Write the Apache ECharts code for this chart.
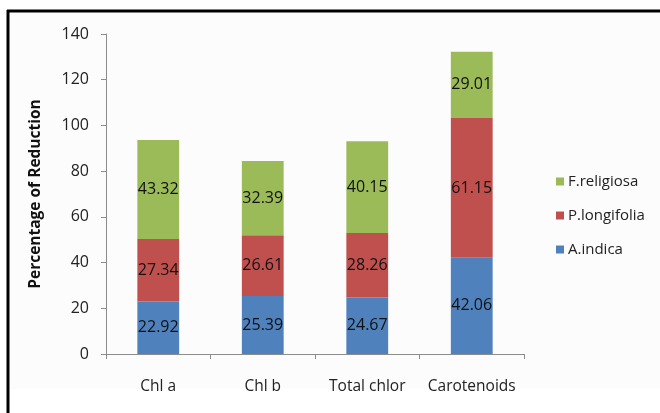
<!DOCTYPE html>
<html>
<head>
<meta charset="utf-8">
<script src="https://cdn.jsdelivr.net/npm/echarts@6/dist/echarts.min.js"></script>
<style>
  html, body { margin: 0; padding: 0; background: #fff; }
  #chart { width: 660px; height: 413px; }
</style>
</head>
<body>
<div id="chart"></div>
<script>
// Pigment reduction (%) by species, stacked per pigment
const categories = ['Chl a', 'Chl b', 'Total chlor', 'Carotenoids'];
const aIndica = [22.92, 25.39, 24.67, 42.06];
const pLongifolia = [27.34, 26.61, 28.26, 61.15];
const fReligiosa = [43.32, 32.39, 40.15, 29.01];
const yTicks = { min: 0, max: 140, interval: 20 };

const FONT = '"Open Sans", "Noto Sans", sans-serif';

const chart = echarts.init(document.getElementById('chart'), null, { renderer: 'canvas' });

function stackSeries(name, data, color) {
  return {
    name: name,
    type: 'bar',
    stack: 'total',
    data: data,
    barWidth: '40%',
    itemStyle: { color: color },
    label: {
      show: true,
      position: 'inside',
      color: '#111',
      fontFamily: FONT,
      fontSize: 16,
      formatter: p => p.value.toFixed(2)
    }
  };
}

chart.setOption({
  animation: false,
  backgroundColor: '#ffffff',
  graphic: [
    { type: 'rect', z: -10, shape: { x: 9, y: 12, width: 651, height: 377 }, style: { fill: '#fcfcfc' } },
    { type: 'line', shape: { x1: 7, y1: 11, x2: 660, y2: 11 }, style: { stroke: '#000', lineWidth: 3 } },
    { type: 'line', shape: { x1: 8, y1: 10, x2: 8, y2: 413 }, style: { stroke: '#000', lineWidth: 3 } }
  ],
  grid: { left: 106, top: 34, width: 418, height: 320, containLabel: false },
  legend: {
    orient: 'vertical',
    left: 551,
    top: 166,
    itemWidth: 8,
    itemHeight: 8,
    itemGap: 13,
    icon: 'rect',
    data: ['F.religiosa', 'P.longifolia', 'A.indica'],
    textStyle: { fontFamily: FONT, fontSize: 15, color: '#222', lineHeight: 21, padding: [0, 0, 0, -1] }
  },
  xAxis: {
    type: 'category',
    data: categories,
    axisLine: { lineStyle: { color: '#8c8c8c' } },
    axisTick: { show: true, length: 5, lineStyle: { color: '#8c8c8c' } },
    axisLabel: { interval: 0, fontFamily: FONT, fontSize: 15.5, color: '#222', margin: 25 }
  },
  yAxis: {
    type: 'value',
    min: yTicks.min,
    max: yTicks.max,
    interval: yTicks.interval,
    name: 'Percentage of Reduction',
    nameLocation: 'middle',
    nameGap: 62,
    nameTextStyle: { fontFamily: FONT, fontSize: 15.5, fontWeight: 'bold', color: '#111' },
    axisLine: { show: true, lineStyle: { color: '#8c8c8c' } },
    axisTick: { show: true, length: 5, lineStyle: { color: '#8c8c8c' } },
    splitLine: { show: false },
    axisLabel: { fontFamily: FONT, fontSize: 16, color: '#222', margin: 17 }
  },
  series: [
    stackSeries('A.indica', aIndica, '#4f81bd'),
    stackSeries('P.longifolia', pLongifolia, '#c0504d'),
    stackSeries('F.religiosa', fReligiosa, '#9bbb59')
  ]
});
</script>
</body>
</html>
